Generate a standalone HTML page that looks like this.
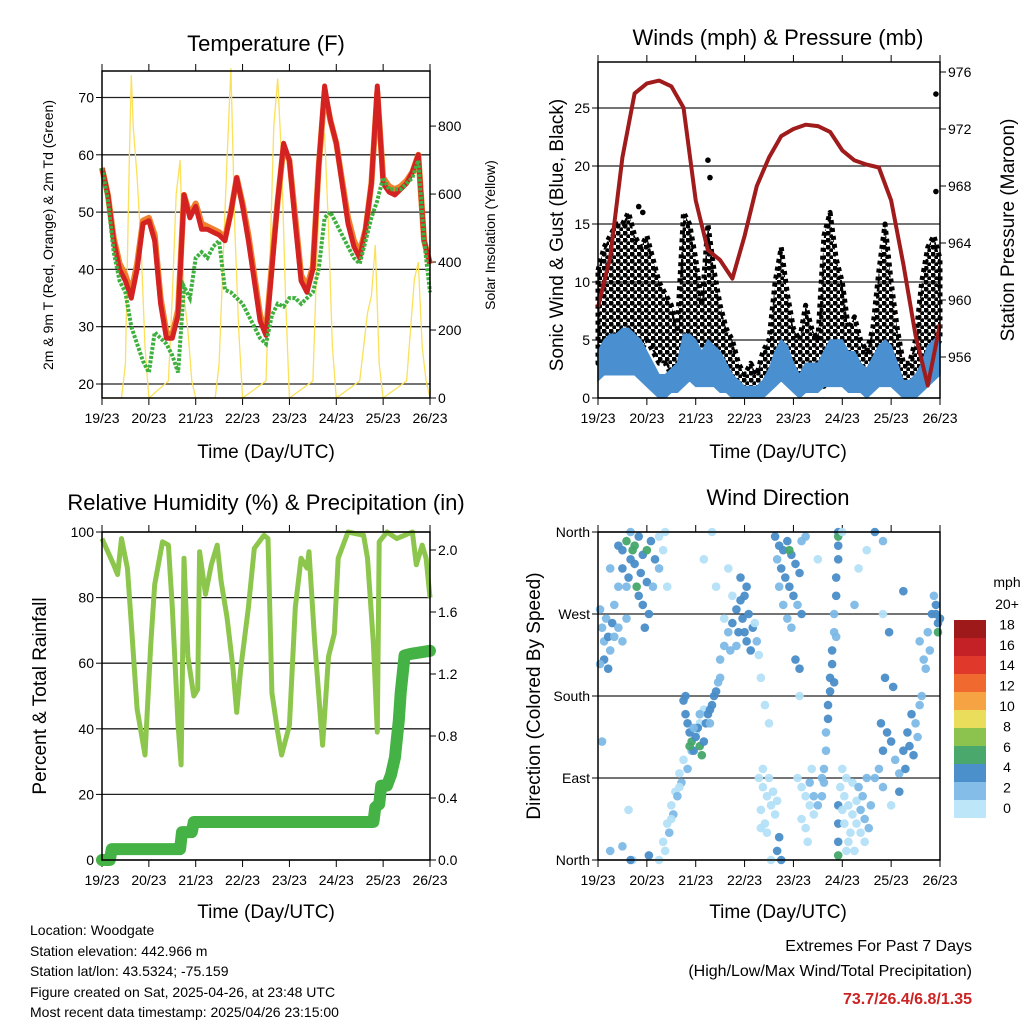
<!DOCTYPE html>
<html><head><meta charset="utf-8"><style>
body{margin:0;background:#fff}
svg{display:block;font-family:"Liberation Sans",sans-serif}
</style></head><body>
<svg id="c" width="1024" height="1024" viewBox="0 0 1024 1024" xmlns="http://www.w3.org/2000/svg">
<defs>
<pattern id="dots" width="7" height="7" patternUnits="userSpaceOnUse"><circle cx="2" cy="2" r="2.6" fill="#000"/><circle cx="5.5" cy="5.5" r="2.3" fill="#000"/></pattern>
</defs>
<rect width="1024" height="1024" fill="#fff"/>
<g id="layer"></g>
<g font-size="22" text-anchor="middle" fill="#000">
<text x="266" y="51">Temperature (F)</text>
<text x="778" y="45">Winds (mph) &amp; Pressure (mb)</text>
<text x="266" y="510">Relative Humidity (%) &amp; Precipitation (in)</text>
<text x="778" y="505">Wind Direction</text>
</g>
<g font-size="19" text-anchor="middle">
<text x="266" y="458">Time (Day/UTC)</text>
<text x="778" y="458">Time (Day/UTC)</text>
<text x="266" y="918">Time (Day/UTC)</text>
<text x="778" y="918">Time (Day/UTC)</text>
<text transform="translate(563,235) rotate(-90)">Sonic Wind &amp; Gust (Blue, Black)</text>
<text transform="translate(1014,230) rotate(-90)">Station Pressure (Maroon)</text>
<text transform="translate(46,696) rotate(-90)">Percent &amp; Total Rainfall</text>
<text transform="translate(540,696) rotate(-90)">Direction (Colored By Speed)</text>
</g>
<g font-size="14" text-anchor="middle">
<text transform="translate(53,235) rotate(-90)">2m &amp; 9m T (Red, Orange) &amp; 2m Td (Green)</text>
<text transform="translate(495,235) rotate(-90)">Solar Insolation (Yellow)</text>
<text x="1007" y="587">mph</text>
</g>
<g font-size="14">
<text x="30" y="935">Location: Woodgate</text>
<text x="30" y="956">Station elevation: 442.966 m</text>
<text x="30" y="976">Station lat/lon: 43.5324; -75.159</text>
<text x="30" y="997">Figure created on Sat, 2025-04-26, at 23:48 UTC</text>
<text x="30" y="1017">Most recent data timestamp: 2025/04/26 23:15:00</text>
</g>
<g font-size="16" text-anchor="end">
<text x="972" y="951">Extremes For Past 7 Days</text>
<text x="972" y="976">(High/Low/Max Wind/Total Precipitation)</text>
<text x="972" y="1004" fill="#cc2222" font-weight="bold">73.7/26.4/6.8/1.35</text>
</g>
</svg>
<script>
// ---- data ----
const dayLabels=["19/23","20/23","21/23","22/23","23/23","24/23","25/23","26/23"];
const tHours=[0,3,6,9,12,15,18,21,24,27,30,33,36,39,42,45,48,51,54,57,60,63,66,69,72,75,78,81,84,87,90,93,96,99,102,105,108,111,114,117,120,123,126,129,132,135,138,141,144,147,150,153,156,159,162,165,168];
const temp2m=[57.7,53,45,40,38,35,40,48,48.5,45,34,28,28,32,53,49,51,47,47,46.5,46,45,50,56,51,45,38,31,28.5,40,52,62,59,48,38,36,40,58,72,66,62,55,48,44,42,47,55,72,55,53.5,53,54,55,57,60,45,41];
const temp9m=[57.7,53,45.5,41,39,36,41,48.5,49,46,35,29,28.5,33,53,49.5,51.5,48,47.5,47,46.5,45.5,50,56,51.5,46,39,32,29,41,52,61.5,59,49,39,37,40.5,58,71,66,62,55.5,49,45,43,47,55,71,56,54.5,54,54.5,55.5,57,60,45,41];
const dew2m=[57.7,52,43,38,36,30,27,24,22,29,28,27,25,22,37,35,42,43,42,44,45,36.4,36,35,34,32,30,28,27,32,34,33.5,35,35,34,35,36,40,49,50,48,46,44,42,41,45,49,52,56,54,54,54,55,56,59,45,36];
const solarHours=[0,10,12,14,15,16,18,20,22,24,34,36,38,40,42,44,46,48,58,60,62,64,66,68,70,72,84,86,88,90,92,94,96,108,110,112,114,116,118,120,132,134,136,138,140,142,144,156,158,160,162,164,166,168];
const solarVals=[0,0,100,700,950,800,650,450,150,0,50,300,600,700,300,200,50,0,0,100,400,700,970,500,200,0,50,400,800,940,700,300,0,50,400,700,780,500,150,0,50,150,250,300,450,100,0,50,200,350,400,150,50,0];
const gustLo=[3,5,5,5,6,6,5,4,5,4,3,3,2,2,3,4,3,2,3,2,2,1,1,1,0.5,0.5,0.5,1,1,2,3,2,1,1,1,1,1,1,2,2,2,1,1,1,0.5,1,2,3,2,1,0.5,0.5,1,2,3,4,5];
const gustHi=[11,13,14,15,15,16,14,13,14,12,10,9,8,6,16,15,12,8,15,11,8,6,5,3,2,3,2,4,5,10,13,9,6,5,8,6,5,14,16,12,10,6,7,5,4,6,11,15,10,6,3,3,5,10,13,14,12];
const windLo=[1.5,2,2,2,2,2,2,1.5,1,0.5,0,0,0.5,0.5,1,1.5,1,1,1,1,0.5,0.5,0,0,0,0,0,0,0.5,1,1.5,1,0.5,0,0.5,0.5,0.5,1,1,1,1,0.5,0.5,0.5,0,0.5,1,1,1,0.5,0,0,0,0.5,1,1.5,2];
const windHi=[4,5,5.5,5.5,6,6,5.5,5,4,3,2,2,2.5,3,5.5,5.5,5,4,5,4.5,4,3,2,1.5,1,1,1,1.5,2.5,4,5,4.5,3,2,3,3,3,4,5,5,5,4,4,3,2.5,3.5,4.5,5,4.5,3,1.5,1.5,2,3,4.5,5,5.5];
const gustOutH=[166,166,54,55,20,22];
const gustOutV=[26.2,17.8,20.5,19,16.5,16];
const presHours=[0,6,12,18,24,30,36,42,48,54,60,66,72,78,84,90,96,102,108,114,120,126,132,138,144,150,156,162,168];
const presVals=[959.5,963,970,974.5,975.2,975.4,975,973.5,967,963.5,962.8,961.5,964.5,968,970,971.5,972,972.3,972.2,971.8,970.5,969.8,969.5,969.3,967,962.5,957.5,954,958.3];
const rhHours=[0,6,8,10,13,15,18,22,25,27,31,34,36,39,40.5,42,44,47,49,50,53,56,59,61,64,67,69,71,75,78,83,85,87,90,92,96,99,102,105,106,109,113,116,119,121,126,134,136,139,141,142,146,151,159,161,164,166,168];
const rhVals=[98,90,87,98,89,72,46,32,66,84,97,96,77,41,29,92,62,50,52,94,81,90,96,85,74,59,45,58,77,95,99,98,51,39,32,41,77,92,89,94,66,35,62,69,92,100,99,92,66,39,97,100,98,100,90,96,92,80];
const prHours=[0,4,5,40,41,46,47,139,140,142,143,146,148,150,152,153,155,158,168];
const prVals=[0,0,0.07,0.07,0.18,0.18,0.245,0.245,0.34,0.36,0.48,0.48,0.55,0.66,0.9,1.08,1.32,1.33,1.35];
const dirPts=[[10,345,4],[12,340,4],[14,350,6],[16,330,4],[18,345,6],[20,355,4],[22,335,4],[24,340,6],[26,350,4],[28,330,4],[12,320,4],[15,310,4],[18,325,4],[21,315,4],[24,305,4],[27,300,2],[30,320,2],[32,340,0],[34,300,0],[20,290,4],[22,280,4],[25,270,4],[14,300,2],[10,300,2],[8,280,2],[6,320,2],[16,360,2],[30,355,0],[33,360,0],[23,255,4],[19,300,6],[17,340,6],
[1,275,2],[2,255,2],[3,240,2],[4,265,2],[5,245,4],[6,230,2],[7,260,4],[8,245,2],[10,255,2],[12,240,2],[3,220,4],[5,210,4],[1,215,2],[14,265,2],
[30,0,0],[32,20,0],[34,40,0],[36,60,0],[38,75,0],[40,95,0],[42,110,0],[35,30,2],[37,50,2],[39,70,2],[41,85,2],[44,100,2],[46,120,2],[48,140,0],[50,150,0],[52,165,0],[33,10,0],[36,45,0],[40,80,0],[15,55,0],[17,0,0],[12,15,2],[25,5,4],
[42,175,4],[43,160,4],[44,150,4],[45,140,4],[46,130,6],[47,120,4],[48,135,4],[49,145,4],[50,125,6],[51,115,6],[52,130,4],[53,150,4],[54,160,4],[55,165,4],[56,170,4],[57,180,4],[58,185,4],[43,180,4],[45,125,6],[47,145,2],[50,160,2],[55,150,2],[59,195,2],[60,200,2],
[60,220,2],[62,235,2],[64,250,2],[66,260,4],[68,275,4],[70,285,4],[72,290,4],[74,270,4],[76,255,4],[78,240,2],[65,230,2],[69,250,4],[71,265,4],[73,240,4],[75,230,4],[62,265,0],[66,290,0],[70,310,4],[73,300,4],[77,260,0],[79,225,0],[80,200,0],[82,170,0],[84,150,0],[72,250,4],[68,235,2],
[87,355,4],[89,345,4],[91,340,4],[93,350,4],[95,335,4],[97,325,4],[99,315,4],[88,330,2],[90,320,4],[92,310,4],[94,300,4],[96,290,4],[98,280,2],[100,270,4],[89,300,2],[91,280,2],[93,265,2],[95,255,2],[97,220,4],[99,210,4],[99,180,0],[94,340,6],[100,350,2],[102,355,2],
[79,90,0],[81,80,0],[83,70,0],[85,60,0],[87,50,0],[80,55,0],[82,40,0],[84,90,0],[86,75,0],[88,65,0],[81,100,0],[83,30,0],[80,35,0],[85,0,0],[88,10,4],[89,25,4],[90,0,4],
[98,90,0],[100,80,0],[102,70,0],[104,60,0],[106,50,0],[100,45,0],[102,35,0],[104,85,2],[106,70,2],[108,60,2],[110,90,2],[103,20,0],[105,100,0],
[118,360,4],[118,345,4],[118,330,4],[117,310,4],[117,290,4],[116,270,2],[116,250,2],[115,230,4],[115,215,4],[114,200,4],[114,185,4],[113,170,4],[113,155,4],[112,140,2],[112,120,2],[111,100,2],[111,85,2],[110,70,2],[118,60,4],[118,40,4],[118,20,4],[118,5,6],[118,355,6],[117,245,2],[116,195,4],
[119,80,0],[121,70,0],[123,60,0],[125,50,0],[127,40,0],[129,30,0],[131,20,0],[121,40,0],[123,20,0],[125,85,0],[127,65,0],[129,55,2],[131,45,2],[133,35,2],[120,100,0],[122,10,0],[126,10,0],[124,30,0],[128,80,2],[130,70,2],[132,90,2],[134,60,2],[120,55,0],[122,90,0],
[136,90,2],[138,100,2],[140,120,4],[142,140,4],[144,130,4],[146,110,2],[148,95,2],[150,120,4],[152,140,4],[154,160,4],[156,150,2],[158,170,2],[140,80,2],[144,60,0],[148,75,4],[151,100,4],[153,125,4],[155,115,4],[157,135,2],[159,180,2],[139,150,4],[141,200,4],[143,250,4],[145,190,4],
[158,240,2],[160,220,2],[162,250,2],[164,270,4],[166,280,4],[167,260,4],[168,265,4],[165,290,2],[163,230,2],[161,210,2],[167,250,6],[166,270,4],
[108,330,0],[120,360,0],[128,320,0],[136,360,4],[140,350,2],[132,340,0],[126,280,2],[150,295,4],[140,270,0],[56,360,0],[58,300,0],[64,320,0],[52,330,0],[2,130,2],[6,10,2],[16,0,4]];
const cbLabels=["20+","18","16","14","12","10","8","6","4","2","0"];
const cbColors=["#9e1a1a","#c42126","#e0392b","#f0692f","#f6a443","#e9dd5b","#8cc34f","#4ba86d","#4b8fcb","#84bde8","#bde6f9"];
const tempTicks=[20,30,40,50,60,70];
const solarTicks=[0,200,400,600,800];
const windTicks=[0,5,10,15,20,25];
const presTicks=[956,960,964,968,972,976];
const rhTicks=[0,20,40,60,80,100];
const prTicks=[0,0.4,0.8,1.2,1.6,2.0];
const dirTicks=[0,90,180,270,360];
const dirNames=["North","East","South","West","North"];

// ---- scales ----
const tx=h=>102+h*328/168, ty=v=>384-(v-20)*5.73, sy=s=>398-s*0.3399;
const wx=h=>598+h*342/168, wy=v=>398-v*11.6, py=p=>357-(p-956)*14.25;
const ry=v=>860-v*3.28, pry=p=>860-p*155;
const dy=d=>860-d*328/360;
const NS="http://www.w3.org/2000/svg";
const L=document.getElementById('layer');
function mk(tag,at,parent){const e=document.createElementNS(NS,tag);for(const k in at)e.setAttribute(k,at[k]);(parent||L).appendChild(e);return e;}
function pts(xs,ys,fx,fy){return xs.map((h,i)=>fx(h).toFixed(1)+","+fy(ys[i]).toFixed(1)).join(" ");}
function txt(x,y,s,anchor,size){const e=mk('text',{x:x,y:y,'text-anchor':anchor,'font-size':size||14});e.textContent=s;return e;}

function panel(name,x0,x1,y0,y1,ylab,yfun,ytLabels,rlab,rfun,rtLabels,rx0){
  const hl=ylab.map(v=>yfun(v));
  for(let i=0;i<hl.length;i++){
    const g=mk('line',{x1:x0,x2:x1,y1:hl[i],y2:hl[i],stroke:'#222','stroke-width':1.3});
    
    
    const t=txt(x0-8,hl[i]+5,ytLabels[i],'end');
    
    
    const tk=mk('line',{x1:x0-6,x2:x0,y1:hl[i],y2:hl[i],stroke:'#000'});
    
    
  }
  if(rlab){for(let i=0;i<rlab.length;i++){
    const y=rfun(rlab[i]);
    const t=txt(rx0,y+5,rtLabels[i],'start');
    
    
    const tk=mk('line',{x1:x1,x2:x1+6,y1:y,y2:y,stroke:'#000'});
    
    
  }}
  for(let d=0;d<dayLabels.length;d++){
    const x=x0+d*(x1-x0)/7;
    const a=mk('line',{x1:x,x2:x,y1:y1,y2:y1+7,stroke:'#000'});
    
    
    const b=mk('line',{x1:x,x2:x,y1:y0-7,y2:y0,stroke:'#000'});
    
    
    const t=txt(x,y1+25,dayLabels[d],'middle');
    
    
  }
}
function frame(name,x0,x1,y0,y1){
  const r=mk('rect',{x:x0,y:y0,width:x1-x0,height:y1-y0,fill:'none',stroke:'#000','stroke-width':1.5});
  
  
}

// Temperature panel
panel('temp',102,430,71,398,tempTicks,ty,tempTicks.map(String),solarTicks,sy,solarTicks.map(String),438);
const sol=mk('polyline',{points:pts(solarHours,solarVals,tx,sy),fill:'none',stroke:'#fbe05a','stroke-width':1.3});


const t9=mk('polyline',{points:pts(tHours,temp9m,tx,ty),fill:'none',stroke:'#f0802c','stroke-width':6,'stroke-linejoin':'round'});


const t2=mk('polyline',{points:pts(tHours,temp2m,tx,ty),fill:'none',stroke:'#d42222','stroke-width':5,'stroke-linejoin':'round'});


const td=mk('polyline',{points:pts(tHours,dew2m,tx,ty),fill:'none',stroke:'#3fb03f','stroke-width':4,'stroke-dasharray':'3 1.5'});


frame('temp',102,430,71,398);

// Wind panel
panel('wind',598,940,62,398,windTicks,wy,windTicks.map(String),presTicks,py,presTicks.map(String),948);
const band=tHours.map((h,i)=>wx(h)+","+wy(gustHi[i])).concat(tHours.slice().reverse().map((h,j)=>wx(h)+","+wy(gustLo[tHours.length-1-j])));
const gb=mk('polygon',{points:band.join(" "),fill:'url(#dots)',stroke:'#000','stroke-width':5,'stroke-linejoin':'round','stroke-dasharray':'4 4'});


for(let i=0;i<gustOutH.length;i++){
  const c=mk('circle',{cx:wx(gustOutH[i]),cy:wy(gustOutV[i]),r:2.8,fill:'#000'});
  
  
}
const bb=tHours.map((h,i)=>wx(h)+","+wy(windHi[i])).concat(tHours.slice().reverse().map((h,j)=>wx(h)+","+wy(windLo[tHours.length-1-j])));
const wb=mk('polygon',{points:bb.join(" "),fill:'#4a90d0',stroke:'#4a90d0','stroke-width':1.5});


const pl=mk('polyline',{points:pts(presHours,presVals,wx,py),fill:'none',stroke:'#a01c1c','stroke-width':4,'stroke-linejoin':'round'});


frame('wind',598,940,62,398);

// RH panel
panel('rh',102,430,532,860,rhTicks,ry,rhTicks.map(String),prTicks,pry,prTicks.map(v=>v.toFixed(1)),438);
const rl=mk('polyline',{points:pts(rhHours,rhVals,tx,ry),fill:'none',stroke:'#8dc64d','stroke-width':5,'stroke-linejoin':'round'});


const pp=mk('polyline',{points:pts(prHours,prVals,tx,pry),fill:'none',stroke:'#45b245','stroke-width':12,'stroke-linejoin':'round','stroke-linecap':'round'});


frame('rh',102,430,532,860);

// Direction panel
panel('dir',598,940,532,860,dirTicks,dy,dirNames,null,null,null,0);
const spdColor={0:'#b3e0f7',2:'#7db9e6',4:'#4a8dc8',6:'#45a66a'};
for(let i=0;i<dirPts.length;i++){
  const p=dirPts[i];
  const c=mk('circle',{cx:wx(p[0]),cy:dy(p[1]),r:4.3,fill:spdColor[p[2]],'fill-opacity':0.95});
  
  
}
frame('dir',598,940,532,860);

// Colorbar
const cbTop=620,cbH=18;
for(let i=0;i<cbColors.length;i++){
  const r=mk('rect',{x:954,y:cbTop+i*cbH,width:32,height:cbH,fill:cbColors[i]});
  
  
  const t=txt(1007,609+i*20.4,cbLabels[i],'middle');
  
  
}
</script>
</body></html>
